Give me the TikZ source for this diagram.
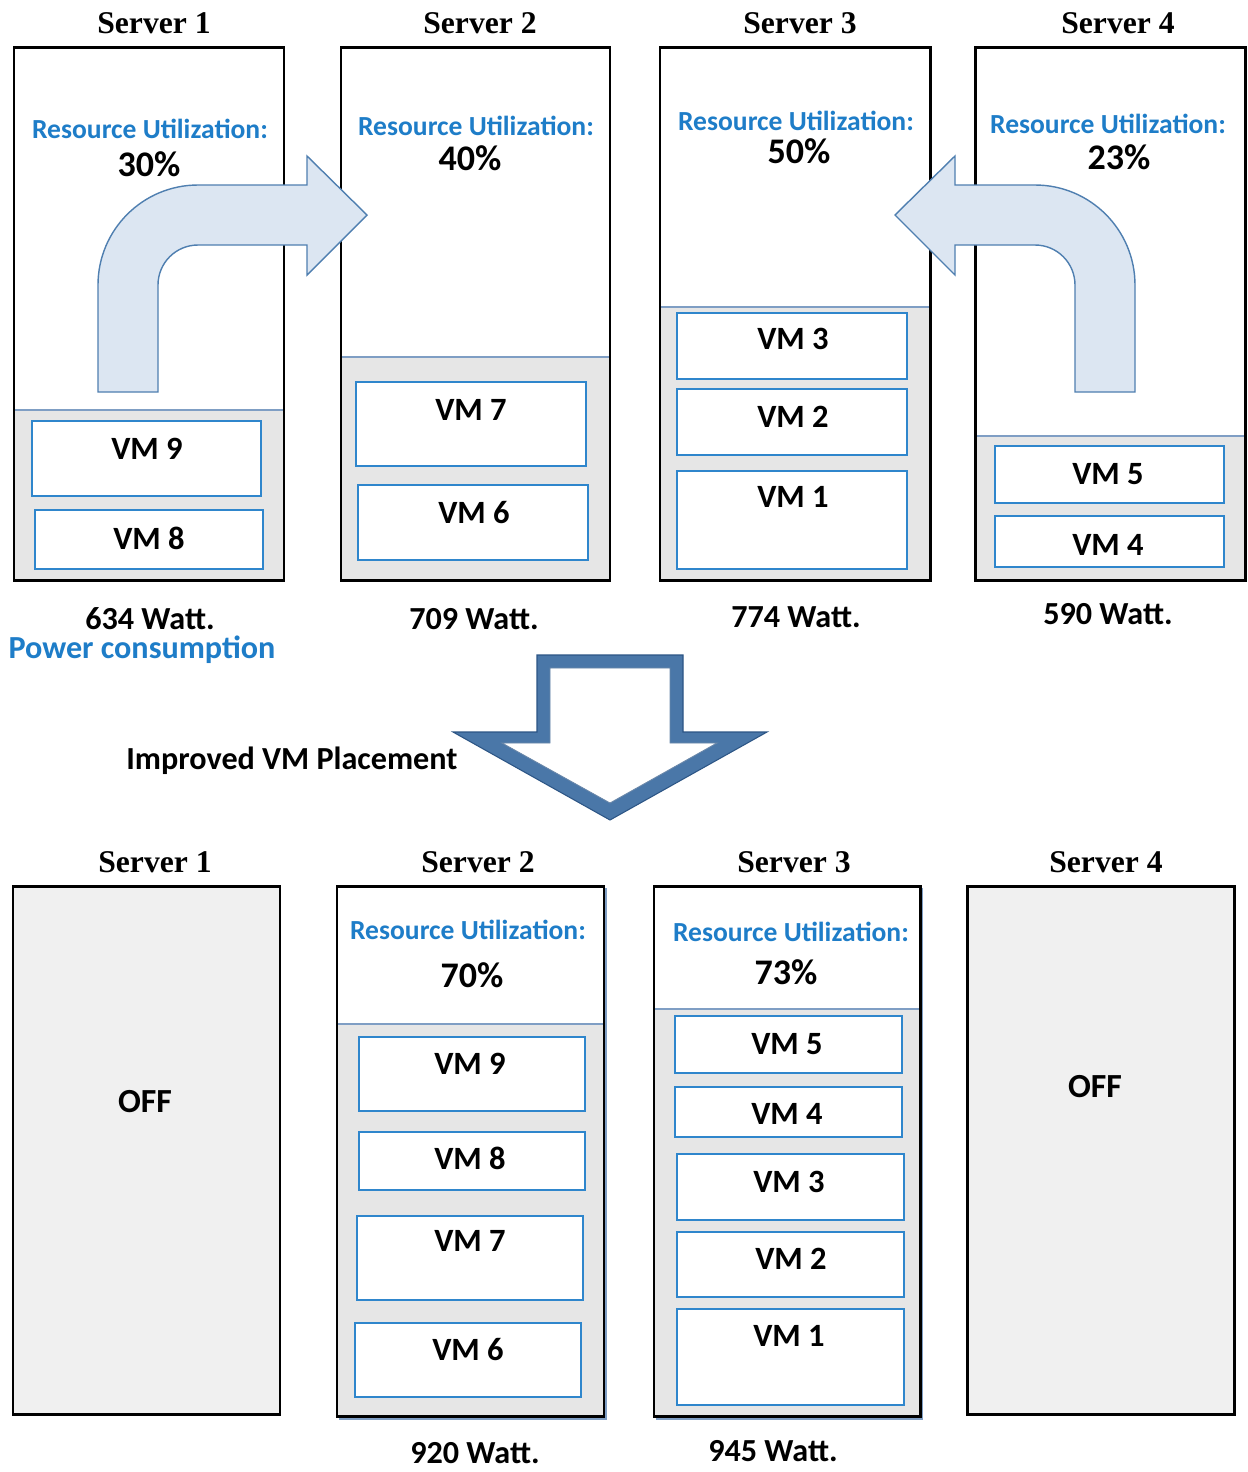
\documentclass[tikz,border=0pt]{standalone}
\usepackage{fontspec}
\setmainfont{Liberation Serif}
\newfontfamily\calfont{Carlito}
\usetikzlibrary{fit}
\definecolor{rackgray}{HTML}{E6E6E6}
\definecolor{offgray}{HTML}{F0F0F0}
\definecolor{vmblue}{HTML}{2F86CC}
\definecolor{rublue}{HTML}{1E7DC8}
\definecolor{sepblue}{HTML}{7F9EC4}
\definecolor{arrowfill}{HTML}{DCE6F2}
\definecolor{arrowline}{HTML}{4F7FB0}
\definecolor{bigarrow}{HTML}{4A77A8}
\definecolor{bigarrowdark}{HTML}{2C5585}
\begin{document}
\begin{tikzpicture}[x=0.02cm,y=-0.02cm,
  srv/.style={draw=black,line width=1.7pt,inner sep=0pt},
  vmbox/.style={draw=vmblue,line width=1.1pt,fill=white,inner sep=0pt},
  sepline/.style={draw=sepblue,line width=0.9pt},
  srvtitle/.style={font=\fontsize{18}{21}\selectfont\bfseries,inner sep=0pt},
  rutext/.style={font=\calfont\bfseries\fontsize{15.7}{18}\selectfont,text=rublue,inner sep=0pt},
  pcttext/.style={font=\calfont\bfseries\fontsize{20.5}{23}\selectfont,inner sep=0pt},
  vmtext/.style={font=\calfont\bfseries\fontsize{18.5}{21}\selectfont,inner sep=0pt},
  watttext/.style={font=\calfont\bfseries\fontsize{18.3}{21}\selectfont,inner sep=0pt},
  offtext/.style={font=\calfont\bfseries\fontsize{19.2}{22}\selectfont,inner sep=0pt},
  turnarrow/.style={fill=arrowfill,draw=arrowline,line width=0.8pt,line join=miter}]
\useasboundingbox (0,0) rectangle (1248,1472);
\fill[white] (0,0) rectangle (1248,1472);

% ---------- before: four servers ----------
% Server 1
\fill[rackgray] (14,410) rectangle (284,580);
\draw[sepline] (14,410) -- (284,410);
\node[vmbox,fit={(32,421) (261,496)}] (a9) {};
\node[vmbox,fit={(35,510) (263,569)}] (a8) {};
\node[srv,fit={(14,47) (284,580)}] (s1) {};
% Server 2
\fill[rackgray] (341,357) rectangle (610,580);
\draw[sepline] (341,357) -- (610,357);
\node[vmbox,fit={(356,382) (586,466)}] (a7) {};
\node[vmbox,fit={(358,485) (588,560)}] (a6) {};
\node[srv,fit={(341,47) (610,580)}] (s2) {};
% Server 3
\fill[rackgray] (660,307) rectangle (930,580);
\draw[sepline] (660,307) -- (930,307);
\node[vmbox,fit={(677,313) (907,379)}] (a3) {};
\node[vmbox,fit={(677,389) (907,455)}] (a2) {};
\node[vmbox,fit={(677,471) (907,569)}] (a1) {};
\node[srv,fit={(660,47) (930,580)}] (s3) {};
% Server 4
\fill[rackgray] (975,436) rectangle (1245,580);
\draw[sepline] (975,436) -- (1245,436);
\node[vmbox,fit={(995,446) (1224,503)}] (a5) {};
\node[vmbox,fit={(995,516) (1224,567)}] (a4) {};
\node[srv,fit={(975,47) (1245,580)}] (s4) {};

% titles and utilization
\node[srvtitle] (t1) at (154,23) {Server 1};
\node[srvtitle] (t2) at (480,23) {Server 2};
\node[srvtitle] (t3) at (800,23) {Server 3};
\node[srvtitle] (t4) at (1118,23) {Server 4};
\node[rutext] (r1) at (150,129) {Resource Utilization:};
\node[pcttext] (p1) at (149,164) {30\%};
\node[rutext] (r2) at (476,126) {Resource Utilization:};
\node[pcttext] (p2) at (470,158) {40\%};
\node[rutext] (r3) at (796,121) {Resource Utilization:};
\node[pcttext] (p3) at (799,151) {50\%};
\node[rutext] (r4) at (1108,124) {Resource Utilization:};
\node[pcttext] (p4) at (1119,157) {23\%};

% VM labels
\node[vmtext] (la9) at (147,449) {VM 9};
\node[vmtext] (la8) at (149,538) {VM 8};
\node[vmtext] (la7) at (471,410) {VM 7};
\node[vmtext] (la6) at (474,513) {VM 6};
\node[vmtext] (la3) at (793,339) {VM 3};
\node[vmtext] (la2) at (793,417) {VM 2};
\node[vmtext] (la1) at (793,497) {VM 1};
\node[vmtext] (la5) at (1108,474) {VM 5};
\node[vmtext] (la4) at (1108,545) {VM 4};

% power figures
\node[watttext] (w1) at (150,619) {634 Watt.};
\node[watttext,text=rublue] (pc) at (142,650) {Power consumption};
\node[watttext] (w2) at (474,619) {709 Watt.};
\node[watttext] (w3) at (796,617) {774 Watt.};
\node[watttext] (w4) at (1108,614) {590 Watt.};

% migration arrows (drawn over the frames)
\draw[turnarrow] (98,392) -- (98,285) .. controls (98,229.8) and (142.8,185) .. (198,185)
  -- (307,185) -- (307,156) -- (367,215) -- (307,275) -- (307,245) -- (198,245)
  .. controls (175.9,245) and (158,262.9) .. (158,285) -- (158,392) -- cycle;
\draw[turnarrow] (1135,392) -- (1135,285) .. controls (1135,229.8) and (1090.2,185) .. (1035,185)
  -- (955,185) -- (955,156) -- (895,215) -- (955,275) -- (955,245) -- (1035,245)
  .. controls (1057.1,245) and (1075,262.9) .. (1075,285) -- (1075,392) -- cycle;

% ---------- placement step ----------
\fill[bigarrow,even odd rule]
  (537,655) -- (683,655) -- (683,732) -- (767,732) -- (610,820) -- (453,732) -- (537,732) -- cycle
  (550,668) -- (670,668) -- (670,743) -- (717,743) -- (610,803) -- (502,743) -- (550,743) -- cycle;
\draw[bigarrowdark,line width=0.6pt,line join=miter]
  (537,655) -- (683,655) -- (683,732) -- (767,732) -- (610,820) -- (453,732) -- (537,732) -- cycle;
\draw[bigarrowdark!70,line width=0.5pt,line join=miter]
  (550,668) -- (670,668) -- (670,743) -- (717,743) -- (610,803) -- (502,743) -- (550,743) -- cycle;
\node[watttext] (imp) at (292,761) {Improved VM Placement};

% ---------- after: consolidated servers ----------
% Server 1 (off)
\node[srv,fill=offgray,fit={(13,886) (280,1414)}] (b1) {};
\node[offtext] (o1) at (145,1102) {OFF};
% Server 2
\draw[sepblue,line width=0.8pt] (340,889) rectangle (606,1419);
\fill[white] (337,886) rectangle (604,1416);
\fill[rackgray] (337,1024) rectangle (604,1416);
\draw[sepline,line width=1.4pt] (337,1024) -- (604,1024);
\node[vmbox,fit={(359,1037) (585,1111)}] (b9) {};
\node[vmbox,fit={(359,1132) (585,1190)}] (b8) {};
\node[vmbox,fit={(357,1216) (583,1300)}] (b7) {};
\node[vmbox,fit={(355,1323) (581,1397)}] (b6) {};
\node[srv,fit={(337,886) (604,1416)}] (b2) {};
% Server 3
\draw[sepblue,line width=0.8pt] (657,889) rectangle (922,1419);
\fill[white] (654,886) rectangle (920,1416);
\fill[rackgray] (654,1009) rectangle (920,1416);
\draw[sepline] (654,1009) -- (920,1009);
\node[vmbox,fit={(675,1016) (902,1073)}] (b5) {};
\node[vmbox,fit={(675,1087) (902,1137)}] (b4) {};
\node[vmbox,fit={(677,1154) (904,1220)}] (b3) {};
\node[vmbox,fit={(677,1232) (904,1297)}] (bb2) {};
\node[vmbox,fit={(677,1309) (904,1405)}] (bb1) {};
\node[srv,fit={(654,886) (920,1416)}] (b3srv) {};
% Server 4 (off)
\node[srv,fill=offgray,fit={(967,886) (1234,1414)}] (b4srv) {};
\node[offtext] (o4) at (1095,1087) {OFF};

% titles and utilization
\node[srvtitle] (u1) at (155,862) {Server 1};
\node[srvtitle] (u2) at (478,862) {Server 2};
\node[srvtitle] (u3) at (794,862) {Server 3};
\node[srvtitle] (u4) at (1106,862) {Server 4};
\node[rutext] (q2) at (468,930) {Resource Utilization:};
\node[pcttext] (g2) at (472,975) {70\%};
\node[rutext] (q3) at (791,932) {Resource Utilization:};
\node[pcttext] (g3) at (786,972) {73\%};

% VM labels
\node[vmtext] (lb9) at (470,1064) {VM 9};
\node[vmtext] (lb8) at (470,1158) {VM 8};
\node[vmtext] (lb7) at (470,1241) {VM 7};
\node[vmtext] (lb6) at (468,1350) {VM 6};
\node[vmtext] (lb5) at (787,1044) {VM 5};
\node[vmtext] (lb4) at (787,1114) {VM 4};
\node[vmtext] (lb3) at (789,1182) {VM 3};
\node[vmtext] (lb2) at (791,1259) {VM 2};
\node[vmtext] (lb1) at (789,1336) {VM 1};

% power figures
\node[watttext] (v2) at (475,1453) {920 Watt.};
\node[watttext] (v3) at (773,1451) {945 Watt.};
\end{tikzpicture}
\end{document}
